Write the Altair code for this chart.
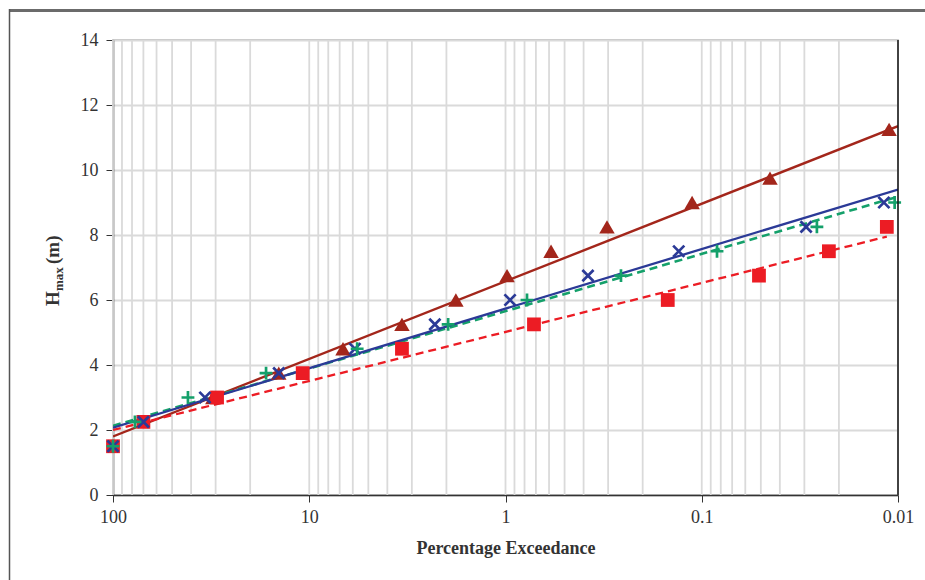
import altair as alt
import pandas as pd

# ---- data ----
sq_p = [100, 70, 29.5, 10.8, 3.37, 0.716, 0.149, 0.0511, 0.0225, 0.0114]
sq_h = [1.5, 2.25, 3.0, 3.75, 4.5, 5.25, 6.0, 6.75, 7.5, 8.25]

x_p = [100, 70, 34.0, 14.3, 5.85, 2.29, 0.948, 0.380, 0.131, 0.0294, 0.0118]
x_h = [1.5, 2.25, 3.0, 3.75, 4.5, 5.25, 6.0, 6.75, 7.5, 8.25, 9.0]

pl_p = [100, 77.3, 41.5, 16.6, 5.7, 1.96, 0.777, 0.258, 0.0836, 0.0259, 0.0104]
pl_h = [1.5, 2.25, 3.0, 3.75, 4.5, 5.25, 6.0, 6.75, 7.5, 8.25, 9.0]

tri_p = [31, 14.3, 6.73, 3.37, 1.79, 0.982, 0.586, 0.304, 0.112, 0.0449, 0.0111]
tri_h = [3.0, 3.75, 4.5, 5.25, 6.0, 6.75, 7.5, 8.25, 9.0, 9.75, 11.25]

fit_p = [100, 0.01]
brown_fit = [1.8, 11.35]
blue_fit = [2.07, 9.40]
green_fit = [2.13, 9.18]
red_fit_p = [100, 0.0114]
red_fit = [2.0, 7.95]

x_ticks = [100, 10, 1, 0.1, 0.01]
y_ticks = [0, 2, 4, 6, 8, 10, 12, 14]
grid_x = sorted({round(k * 10 ** d, 6) for d in range(-2, 2) for k in range(1, 10)} | {100})

BROWN = "#A3261B"
BLUE = "#2B3A97"
GREEN = "#14A06A"
RED = "#EC1C24"
FONT = "Liberation Serif"

W, H = 785, 455

xscale = alt.Scale(type="log", domain=[0.01, 100], reverse=True)
yscale = alt.Scale(domain=[0, 14], nice=False)

xaxis = alt.Axis(values=x_ticks, format=".2~f", title="Percentage Exceedance",
                 grid=False, tickSize=7, labelPadding=6, titlePadding=13,
                 titleFontWeight="bold", labelFlush=False)
yaxis = alt.Axis(values=y_ticks, title=None, grid=True, gridColor="#dadada",
                 gridWidth=1.8, tickSize=7, labelPadding=8)

def df(p, h):
    return pd.DataFrame({"p": p, "h": h})

grid = alt.Chart(pd.DataFrame({"p": grid_x, "h": [0.0] * len(grid_x)})).mark_rule(
    color="#dadada", strokeWidth=1.8).encode(
    x=alt.X("p:Q", scale=xscale, axis=xaxis),
    y=alt.Y("h:Q", scale=yscale, axis=yaxis),
    y2=alt.value(0))

def fitline(p, h, color, dash=None, width=2.3):
    kw = dict(color=color, strokeWidth=width, clip=True)
    if dash:
        kw["strokeDash"] = dash
    return alt.Chart(df(p, h)).mark_line(**kw).encode(
        x=alt.X("p:Q", scale=xscale), y=alt.Y("h:Q", scale=yscale))

lines = [
    fitline(fit_p, brown_fit, BROWN, width=2.4),
    fitline(red_fit_p, red_fit, RED, dash=[8, 5], width=2.3),
    fitline(fit_p, green_fit, GREEN, dash=[8, 5], width=2.6),
    fitline(fit_p, blue_fit, BLUE, width=2.3),
]

def pts(p, h, **kw):
    return alt.Chart(df(p, h)).mark_point(**kw).encode(
        x=alt.X("p:Q", scale=xscale), y=alt.Y("h:Q", scale=yscale))

tri = pts(tri_p, tri_h, shape="triangle-up", filled=True, color=BROWN, size=240, opacity=1)
sq = pts(sq_p, sq_h, shape="square", filled=True, color=RED, size=190, opacity=1)
xx = pts(x_p, x_h, shape="M-1,-1L1,1M1,-1L-1,1", filled=False, color=BLUE, size=125,
         strokeWidth=2.7, opacity=1)
pl = pts(pl_p, pl_h, shape="M-1,0L1,0M0,-1L0,1", filled=False, color=GREEN, size=165,
         strokeWidth=2.7, opacity=1)

one = pd.DataFrame({"a": [0]})

right_edge = alt.Chart(one).mark_rule(color="#111", strokeWidth=1.5).encode(
    x=alt.value(W), y=alt.value(0), y2=alt.value(H))
frame_top = alt.Chart(one).mark_rule(color="#6b6b6b", strokeWidth=3).encode(
    x=alt.value(-104), x2=alt.value(925 - 113 + 5), y=alt.value(-29.5))
frame_left = alt.Chart(one).mark_rule(color="#555", strokeWidth=1.5).encode(
    x=alt.value(-103.5), y=alt.value(-31), y2=alt.value(560))

title_kw = dict(font=FONT, fontWeight="bold", color="#333", angle=270, align="left",
                baseline="middle")
t_H = alt.Chart(one).mark_text(text="H", fontSize=19, **title_kw).encode(
    x=alt.value(-60), y=alt.value(266))
t_max = alt.Chart(one).mark_text(text="max", fontSize=13, **title_kw).encode(
    x=alt.value(-54), y=alt.value(251))
t_m = alt.Chart(one).mark_text(text="(m)", fontSize=19, **title_kw).encode(
    x=alt.value(-60), y=alt.value(224))

chart = alt.layer(
    grid, *lines, tri, sq, xx, pl,
    right_edge, frame_top, frame_left, t_H, t_max, t_m
).properties(
    width=W, height=H, autosize=alt.AutoSizeParams(type="none"),
    padding={"left": 113, "top": 40, "right": 27, "bottom": 85},
    background="white",
).configure_view(stroke="#aaaaaa", strokeWidth=1.5).configure_axis(
    labelFont=FONT, titleFont=FONT, labelFontSize=18, titleFontSize=18,
    labelColor="#333", titleColor="#333", domainColor="#333", tickColor="#333",
    domainWidth=1.5
)

chart.save("out.html", embed_options={"renderer": "svg", "actions": False})
